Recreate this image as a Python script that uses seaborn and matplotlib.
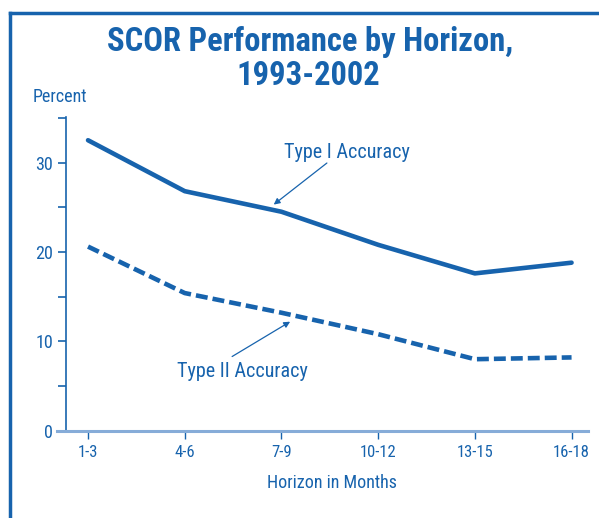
import matplotlib
matplotlib.use("Agg")
import matplotlib.pyplot as plt
import seaborn as sns
import pandas as pd
from matplotlib.lines import Line2D

# --- Data ---
horizons = ["1-3", "4-6", "7-9", "10-12", "13-15", "16-18"]
type1_accuracy = [32.5, 26.8, 24.5, 20.8, 17.6, 18.8]
type2_accuracy = [20.6, 15.4, 13.2, 10.8, 8.0, 8.2]
y_ticks = [0, 10, 20, 30]
y_minor = [5, 15, 25, 35]

BLUE = "#1763ad"
LIGHT = "#86acd8"

sns.set_theme(style="white")
plt.rcParams['font.family'] = ['Roboto Condensed', 'PT Sans Narrow', 'DejaVu Sans']

df = pd.DataFrame({
    'pos': list(range(len(horizons))) * 2,
    'value': type1_accuracy + type2_accuracy,
    'series': ['Type I'] * len(horizons) + ['Type II'] * len(horizons),
})

fig = plt.figure(figsize=(5.99, 5.18), dpi=100)
ax = fig.add_axes([56.6 / 599, 1 - 430.7 / 518, (588 - 56.6) / 599, (430.7 - 117) / 518])

sns.lineplot(data=df[df.series == 'Type I'], x='pos', y='value', ax=ax,
             color=BLUE, linewidth=3.3)
sns.lineplot(data=df[df.series == 'Type II'], x='pos', y='value', ax=ax,
             color=BLUE, linewidth=3.3, linestyle=(0, (2.6, 1.1)))

ax.set_xlim(-0.325, 5.17)
ax.set_ylim(0, 35.1)

# axes styling
for side in ['top', 'right']:
    ax.spines[side].set_visible(False)
ax.spines['left'].set_position(('data', -0.23))
ax.spines['left'].set_color(BLUE)
ax.spines['left'].set_linewidth(1.2)
ax.spines['bottom'].set_color(LIGHT)
ax.spines['bottom'].set_linewidth(2.2)

ax.set_xticks(range(len(horizons)))
ax.set_xticklabels(horizons)
ax.set_yticks(y_ticks)
ax.set_yticks(y_minor, minor=True)
ax.tick_params(axis='x', direction='out', length=6, width=1, color=BLUE,
               labelcolor=BLUE, labelsize=12, pad=4, bottom=True)
ax.tick_params(axis='y', which='both', direction='out', length=6, width=1.2,
               color=BLUE, labelcolor=BLUE, labelsize=13, pad=3, left=True)
ax.set_xlabel("Horizon in Months", color=BLUE, fontsize=13, va='center')
ax.xaxis.set_label_coords((332 - 56.6) / 531.4, (430.7 - 483) / 313.7)
ax.set_ylabel("")
ax.grid(False)

# annotations: arrows, then labels
arrow = dict(arrowstyle='-|>', color=BLUE, lw=0.9, shrinkA=0, shrinkB=0,
             mutation_scale=9)
ax.annotate("", xy=(1.92, 25.3), xytext=(2.47, 29.95), arrowprops=arrow)
ax.annotate("", xy=(2.09, 12.2), xytext=(1.49, 8.3), arrowprops=arrow)
ax.text(2.68, 31.1, "Type I Accuracy", ha='center', va='center', color=BLUE, fontsize=14.5)
ax.text(1.60, 6.6, "Type II Accuracy", ha='center', va='center', color=BLUE, fontsize=14.5)

# titles
fig.text(310 / 599, 1 - 41.5 / 518, "SCOR Performance by Horizon,", ha='center', va='center',
         color=BLUE, fontsize=23.5, fontweight='bold')
fig.text(308 / 599, 1 - 76 / 518, "1993-2002", ha='center', va='center',
         color=BLUE, fontsize=23.5, fontweight='bold')
fig.text(33 / 599, 1 - 97 / 518, "Percent", ha='left', va='center', color=BLUE, fontsize=13)

# frame
fig.add_artist(Line2D([10 / 599, 10 / 599], [0, 1 - 13 / 518], color=BLUE, lw=2.5,
                      transform=fig.transFigure, solid_capstyle='projecting'))
fig.add_artist(Line2D([10 / 599, 1], [1 - 13 / 518, 1 - 13 / 518], color=BLUE, lw=2.5,
                      transform=fig.transFigure, solid_capstyle='projecting'))

fig.savefig("out.png", dpi=100)
